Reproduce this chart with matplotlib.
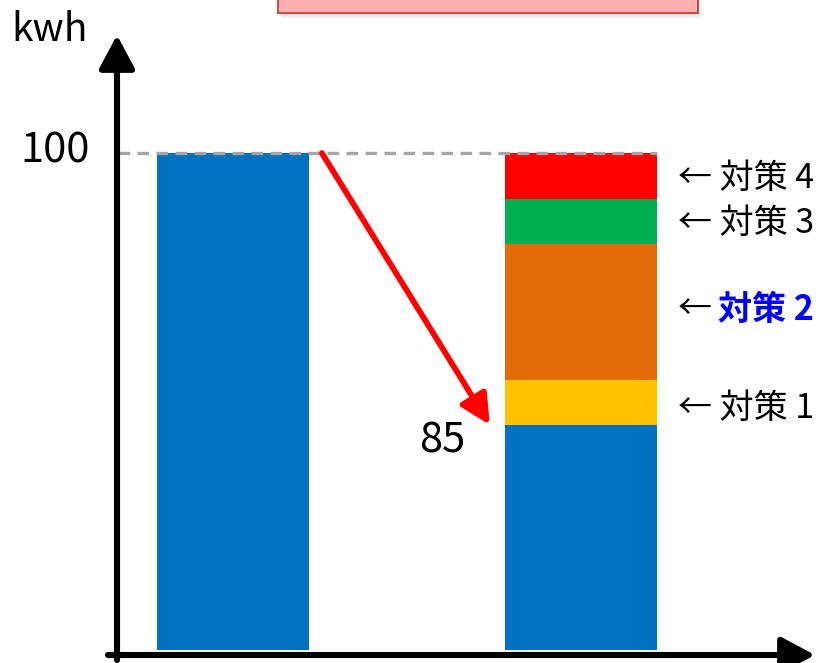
import matplotlib.pyplot as plt
from matplotlib.patches import Rectangle

plt.rcParams['font.family'] = ['Noto Sans CJK JP', 'DejaVu Sans']

# data
categories = ['before', 'after']
before_total = 100
segment_names = ['base', '対策 1', '対策 2', '対策 3', '対策 4']
segment_values = [45.3, 9.0, 27.4, 9.1, 9.2]
segment_colors = ['#0070C0', '#FFC000', '#E36C09', '#00B050', '#FF0000']
label_offsets = [0, -1.2, 0.5, -0.5, -0.5]
target_label = '85'

W, H = 825, 663
fig = plt.figure(figsize=(W / 100, H / 100), dpi=100)
ax = fig.add_axes([117 / W, 13 / H, 708 / W, 650 / H])
ax.set_xlim(-0.333, 1.699)
ax.set_ylim(0, 130.8)
ax.axis('off')

bar_w = 0.436
x = [0, 1]

# left bar
ax.bar(x[0], before_total, width=bar_w, color='#0070C0', linewidth=0)

# stacked right bar
bottom = 0
for name, val, col, off in zip(segment_names, segment_values, segment_colors, label_offsets):
    ax.bar(x[1], val, width=bar_w, bottom=bottom, color=col, linewidth=0)
    if name != 'base':
        mid = bottom + val / 2 + off
        if name == '対策 2':
            ax.text(x[1] + bar_w / 2 + 0.06, mid, '← ', fontsize=24.5, va='center', ha='left')
            ax.text(x[1] + bar_w / 2 + 0.175, mid, name, fontsize=24.5, va='center',
                    ha='left', color='#0000FF', fontweight='bold')
        else:
            ax.text(x[1] + bar_w / 2 + 0.06, mid, '← ' + name, fontsize=24.5,
                    va='center', ha='left')
    bottom += val

# dashed reference line
ax.plot([-0.33, x[1] + bar_w / 2], [before_total, before_total], color='#A6A6A6',
        lw=2.4, ls=(0, (3.5, 2.2)), clip_on=False, zorder=1)

# red arrow from 100 to top of base
ax.annotate('', xy=(0.737, segment_values[0]), xytext=(0.255, before_total),
            arrowprops=dict(arrowstyle='-|>,head_length=0.6,head_width=0.3',
                            mutation_scale=30, color='#FF0000', lw=4.2,
                            shrinkA=0, shrinkB=0))

ax.text(-0.41, before_total + 0.5, '100', fontsize=30, ha='right', va='center')
ax.text(0.666, 42.0, target_label, fontsize=30, ha='right', va='center')
fig.text(50 / W, 1 - 30 / H, 'kwh', fontsize=28, ha='center', va='center')

# axes arrows
arrow = dict(arrowstyle='-|>,head_length=0.6,head_width=0.32', mutation_scale=34,
             color='black', lw=4.4, shrinkA=0, shrinkB=0)
ax.annotate('', xy=(117, H - 35), xytext=(117, H - 660), xycoords='figure pixels',
            textcoords='figure pixels', arrowprops=arrow)
ax.annotate('', xy=(815, H - 655), xytext=(108, H - 655), xycoords='figure pixels',
            textcoords='figure pixels', arrowprops=arrow)

# pink title box cut off at top (with soft shadow)
for i, a in enumerate([0.06, 0.08, 0.1]):
    off = 6 - 2 * i
    fig.patches.append(Rectangle(((278 + off / 2) / W, (H - 13 - off) / H), 420 / W, 40 / H,
                                 transform=fig.transFigure, facecolor='gray',
                                 edgecolor='none', alpha=a))
fig.patches.append(Rectangle((278 / W, (H - 13) / H), 420 / W, 40 / H,
                             transform=fig.transFigure, facecolor='#FFAFAF',
                             edgecolor='#C0504D', lw=1.5))

fig.savefig('out.png', dpi=100)
